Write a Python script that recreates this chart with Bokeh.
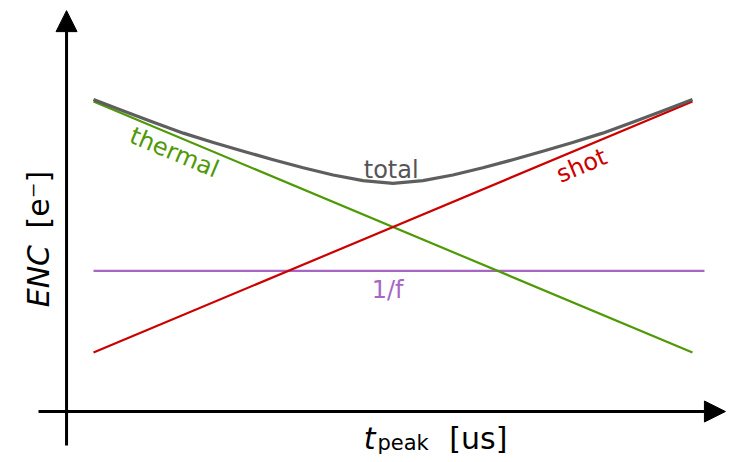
from bokeh.plotting import figure
from bokeh.models import Range1d, Arrow, NormalHead, Label
from bokeh.embed import file_html
from bokeh.resources import INLINE
import math

# Noise contributions vs. peaking time (arbitrary units)
t_line = [0.0, 10.0]
thermal = [12.0, 2.0]
shot = [2.0, 12.0]
t_flicker = [0.0, 10.2]
flicker = [5.25, 5.25]

t_total = [0.0, 0.5, 1.0, 1.5, 2.0, 2.5, 3.0, 3.5, 4.0, 4.5, 5.0,
           5.5, 6.0, 6.5, 7.0, 7.5, 8.0, 8.5, 9.0, 9.5, 10.0]
total = [12.08, 11.62, 11.17, 10.74, 10.37, 10.02, 9.68, 9.36, 9.07, 8.85, 8.74,
         8.85, 9.07, 9.36, 9.68, 10.02, 10.37, 10.74, 11.17, 11.62, 12.08]

GREEN = "#4e9a06"
RED = "#cc0000"
PURPLE = "#a866c4"
GRAY = "#555555"
FONT = "DejaVu Sans"

W, H = 732, 462
p = figure(width=W, height=H, output_backend="svg", toolbar_location=None,
           x_range=Range1d(-1.5526, 10.668), y_range=Range1d(-2.382, 16.024),
           min_border=0, min_border_left=0, min_border_right=0,
           min_border_top=0, min_border_bottom=0)
p.axis.visible = False
p.grid.visible = False
p.outline_line_color = None
p.background_fill_color = "white"
p.border_fill_color = "white"

# axes drawn as arrows
head = dict(size=21, fill_color="black", line_color="black")
p.add_layout(Arrow(end=NormalHead(**head), x_start=-0.45, y_start=-1.7,
                   x_end=-0.45, y_end=15.62, line_width=3, line_color="black"))
p.add_layout(Arrow(end=NormalHead(**head), x_start=-0.918, y_start=-0.351,
                   x_end=10.55, y_end=-0.351, line_width=3, line_color="black"))

# noise curves
p.line(t_flicker, flicker, line_color=PURPLE, line_width=2.2)
p.line(t_line, thermal, line_color=GREEN, line_width=2.2)
p.line(t_line, shot, line_color=RED, line_width=2.2)
p.line(t_total, total, line_color=GRAY, line_width=3.2, line_alpha=0.95,
       line_join="round")

ang = math.atan(251 / 599)
def curve_label(text, x, y, color, angle=0.0):
    p.add_layout(Label(x=x, y=y, text=text, text_color=color, text_font=FONT,
                       text_font_size="24px", text_align="center",
                       text_baseline="middle", angle=angle))

curve_label("thermal", 1.35, 9.97, GREEN, -ang)
curve_label("total", 4.97, 9.29, GRAY)
curve_label("shot", 8.15, 9.45, RED, ang)
curve_label("1/f", 4.91, 4.51, PURPLE)

# axis titles
p.add_layout(Label(x=4.51, y=-1.42, text="t", text_font=FONT, text_font_style="italic",
                   text_font_size="30px", text_color="black", text_align="left",
                   text_baseline="alphabetic"))
p.add_layout(Label(x=4.74, y=-1.6, text="peak", text_font=FONT,
                   text_font_size="21px", text_color="black", text_align="left",
                   text_baseline="alphabetic"))
p.add_layout(Label(x=5.94, y=-1.42, text="[us]", text_font=FONT,
                   text_font_size="30px", text_color="black", text_align="left",
                   text_baseline="alphabetic"))

p.add_layout(Label(x=-0.92, y=3.80, text="ENC", text_font=FONT, text_font_style="italic",
                   text_font_size="30px", text_color="black", text_align="left",
                   text_baseline="alphabetic", angle=math.pi / 2))
p.add_layout(Label(x=-0.92, y=6.94, text="[e\u207b]", text_font=FONT,
                   text_font_size="30px", text_color="black", text_align="left",
                   text_baseline="alphabetic", angle=math.pi / 2))

open("out.html", "w").write(file_html(p, INLINE))
